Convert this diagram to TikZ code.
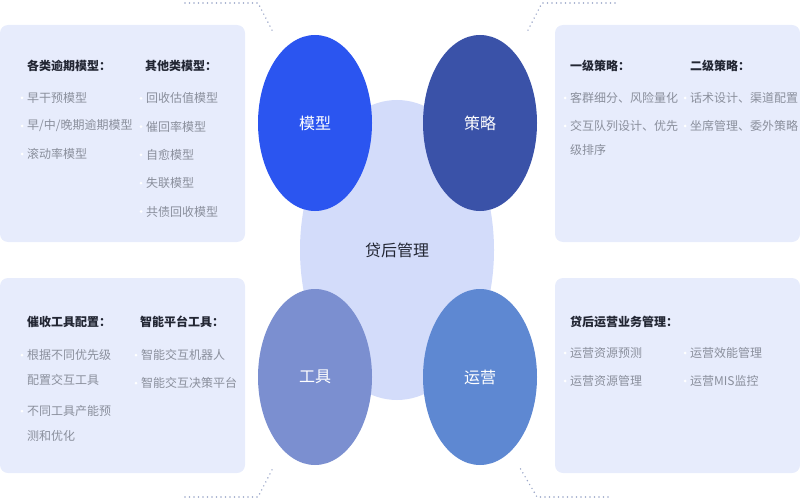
\documentclass[tikz,border=0pt]{standalone}
\usepackage{fontspec}
\usetikzlibrary{shapes.geometric}
\setmainfont{Noto Sans CJK SC}
\definecolor{panelbg}{HTML}{E7ECFC}
\definecolor{hubcol}{HTML}{D3DCFA}
\definecolor{modelcol}{HTML}{2B55F0}
\definecolor{stratcol}{HTML}{3A52A8}
\definecolor{toolcol}{HTML}{7B8FD0}
\definecolor{opcol}{HTML}{5E88D2}
\definecolor{titlecol}{HTML}{222633}
\definecolor{itemcol}{HTML}{8A8F9C}
\definecolor{dotcol}{HTML}{9AA6C8}
\begin{document}
\begin{tikzpicture}[x=1pt,y=-1pt,
    panel/.style ={fill=panelbg, rounded corners=8pt},
    petal/.style ={ellipse, minimum width=114pt, minimum height=176pt, text=white, font=\fontsize{16}{16}\selectfont},
    heading/.style ={anchor=west, text=titlecol, font=\fontsize{12}{12}\selectfont\bfseries, inner sep=0pt},
    item/.style ={anchor=west, text=itemcol, font=\fontsize{12}{12}\selectfont, inner sep=0pt},
    bullet/.style ={circle, fill=white, inner sep=0pt, minimum size=3pt},
    trail/.style ={dotcol, line width=1.6pt, line cap=round, dash pattern=on 0pt off 4.5pt}]
   \useasboundingbox (0,0) rectangle (800,500);

   % panels
   \fill[panel] (0,25) rectangle (245,242);
   \fill[panel] (555,25) rectangle (800,242);
   \fill[panel] (0,278) rectangle (245,473);
   \fill[panel] (555,278) rectangle (800,473);

   % dotted trails
   \coordinate (t1) at (185,3); \coordinate (t2) at (258,3); \coordinate (t3) at (273,32);
   \coordinate (u1) at (615,3); \coordinate (u2) at (542,3); \coordinate (u3) at (527,32);
   \coordinate (v1) at (185,497); \coordinate (v2) at (258,497); \coordinate (v3) at (273,468);
   \coordinate (w1) at (608,497); \coordinate (w2) at (537,497); \coordinate (w3) at (520,468);
   \draw[trail] (t1) -- (t2) -- (t3);
   \draw[trail] (u1) -- (u2) -- (u3);
   \draw[trail] (v1) -- (v2) -- (v3);
   \draw[trail] (w1) -- (w2) -- (w3);

   % hub and petals
   \node[ellipse, fill=hubcol, minimum width=194pt, minimum height=300pt, font=\fontsize{16}{16}\selectfont, text=titlecol] (hub) at (397,250) {贷后管理};
   \node[petal, fill=modelcol] (model) at (315,123) {模型};
   \node[petal, fill=stratcol] (strat) at (480,123) {策略};
   \node[petal, fill=toolcol] (tool) at (315,377) {工具};
   \node[petal, fill=opcol] (op) at (480,377) {运营};

   % top left
   \node[heading] (h1) at (27,66) {各类逾期模型：};
   \node[heading] (h2) at (145,66) {其他类模型：};
   \foreach \t [count=\i] in {早干预模型,早/中/晚期逾期模型,滚动率模型}
     {\node[bullet] at (22,{70+28*\i}) {}; \node[item] at (27,{70+28*\i}) {\t};}
   \foreach \t [count=\i] in {回收估值模型,催回率模型,自愈模型,失联模型,共债回收模型}
     {\node[bullet] at (141,{70+28.3*\i}) {}; \node[item] at (146,{70+28.3*\i}) {\t};}

   % top right
   \node[heading] (h3) at (570,66) {一级策略：};
   \node[heading] (h4) at (690,66) {二级策略：};
   \node[bullet] at (565,98) {}; \node[item] at (570,98) {客群细分、风险量化};
   \node[bullet] at (565,126) {}; \node[item] at (570,126) {交互队列设计、优先};
   \node[item] at (570,150) {级排序};
   \node[bullet] at (685,98) {}; \node[item] at (690,98) {话术设计、渠道配置};
   \node[bullet] at (685,126) {}; \node[item] at (690,126) {坐席管理、委外策略};

   % bottom left
   \node[heading] (h5) at (27,322) {催收工具配置：};
   \node[heading] (h6) at (140,322) {智能平台工具：};
   \node[bullet] at (22,355) {}; \node[item] at (27,355) {根据不同优先级};
   \node[item] at (27,380) {配置交互工具};
   \node[bullet] at (22,411) {}; \node[item] at (27,411) {不同工具产能预};
   \node[item] at (27,436) {测和优化};
   \node[bullet] at (136,355) {}; \node[item] at (141,355) {智能交互机器人};
   \node[bullet] at (136,383) {}; \node[item] at (141,383) {智能交互决策平台};

   % bottom right
   \node[heading] (h7) at (570,322) {贷后运营业务管理：};
   \node[bullet] at (565,353) {}; \node[item] at (570,353) {运营资源预测};
   \node[bullet] at (565,381) {}; \node[item] at (570,381) {运营资源管理};
   \node[bullet] at (685,353) {}; \node[item] at (690,353) {运营效能管理};
   \node[bullet] at (685,381) {}; \node[item] at (690,381) {运营MIS监控};
\end{tikzpicture}
\end{document}
